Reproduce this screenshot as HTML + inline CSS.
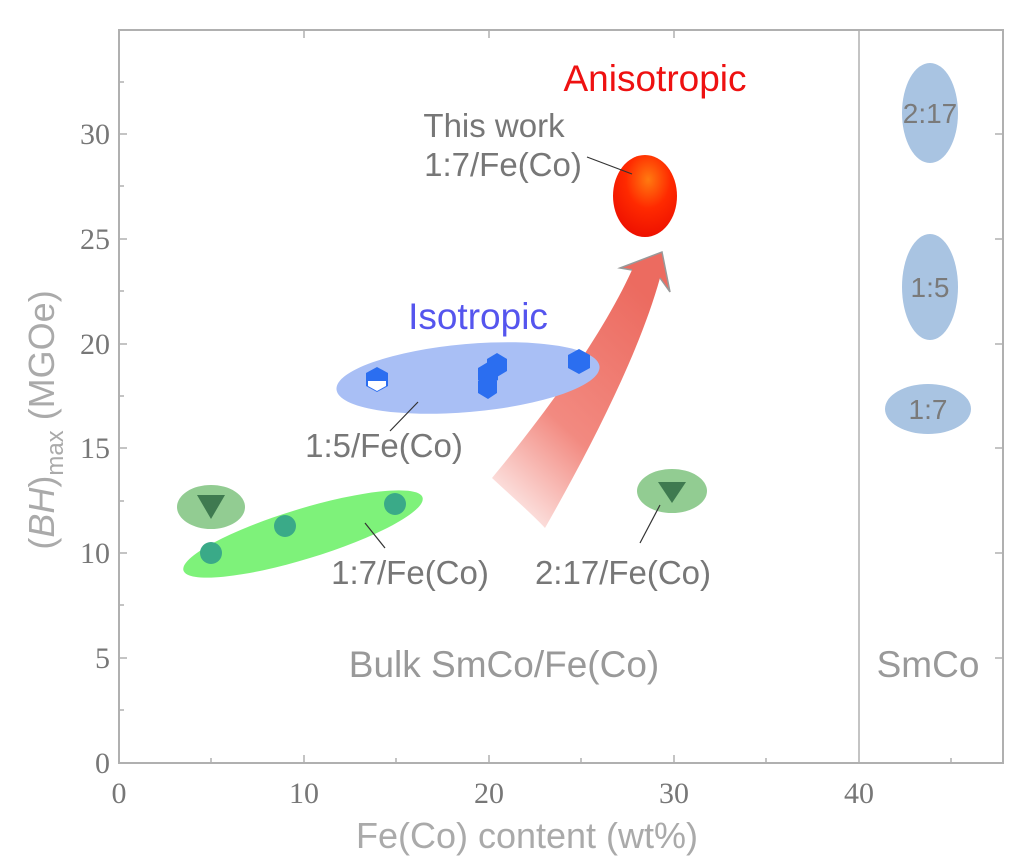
<!DOCTYPE html>
<html><head><style>body{margin:0;background:#fff}svg{display:block}</style></head><body>
<svg width="1024" height="863" viewBox="0 0 1024 863" xmlns="http://www.w3.org/2000/svg">
<defs>
<radialGradient id="rg" cx="0.55" cy="0.3" r="0.7"><stop offset="0" stop-color="#ff7a10"/><stop offset="0.5" stop-color="#ff2a00"/><stop offset="1" stop-color="#ee1100"/></radialGradient>
<linearGradient id="ag" x1="0" y1="1" x2="0.6" y2="0"><stop offset="0" stop-color="#f0756a" stop-opacity="0"/><stop offset="0.45" stop-color="#f0756a" stop-opacity="0.85"/><stop offset="1" stop-color="#ec6b60"/></linearGradient>
</defs>
<g stroke="#b0b0b0" stroke-width="2" fill="none">
<rect x="119" y="30" width="884" height="733"/>
<line x1="859" y1="30" x2="859" y2="763" stroke-width="1.5"/>
</g>
<g stroke="#b0b0b0" stroke-width="1.5">
<line x1="119" y1="658" x2="127" y2="658"/><line x1="119" y1="553" x2="127" y2="553"/><line x1="119" y1="448" x2="127" y2="448"/><line x1="119" y1="344" x2="127" y2="344"/><line x1="119" y1="239" x2="127" y2="239"/><line x1="119" y1="134" x2="127" y2="134"/>
<line x1="119" y1="710" x2="124" y2="710"/><line x1="119" y1="605" x2="124" y2="605"/><line x1="119" y1="501" x2="124" y2="501"/><line x1="119" y1="396" x2="124" y2="396"/><line x1="119" y1="291" x2="124" y2="291"/><line x1="119" y1="186" x2="124" y2="186"/><line x1="119" y1="82" x2="124" y2="82"/>
<line x1="1003" y1="658" x2="995" y2="658"/><line x1="1003" y1="553" x2="995" y2="553"/><line x1="1003" y1="448" x2="995" y2="448"/><line x1="1003" y1="344" x2="995" y2="344"/><line x1="1003" y1="239" x2="995" y2="239"/><line x1="1003" y1="134" x2="995" y2="134"/>
<line x1="304" y1="763" x2="304" y2="755"/><line x1="489" y1="763" x2="489" y2="755"/><line x1="674" y1="763" x2="674" y2="755"/>
<line x1="211" y1="763" x2="211" y2="758"/><line x1="396" y1="763" x2="396" y2="758"/><line x1="581" y1="763" x2="581" y2="758"/><line x1="766" y1="763" x2="766" y2="758"/><line x1="951" y1="763" x2="951" y2="758"/>
<line x1="304" y1="30" x2="304" y2="38"/><line x1="489" y1="30" x2="489" y2="38"/><line x1="674" y1="30" x2="674" y2="38"/>
</g>
<g font-family="Liberation Serif, serif" font-size="30" fill="#777">
<g text-anchor="end"><text x="110" y="773">0</text><text x="110" y="668">5</text><text x="110" y="563">10</text><text x="110" y="458">15</text><text x="110" y="354">20</text><text x="110" y="249">25</text><text x="110" y="144">30</text></g>
<g text-anchor="middle"><text x="119" y="803">0</text><text x="304" y="803">10</text><text x="489" y="803">20</text><text x="674" y="803">30</text><text x="859" y="803">40</text></g>
</g>
<g font-family="Liberation Sans, sans-serif" fill="#aaa">
<text x="527" y="848" font-size="36" text-anchor="middle">Fe(Co) content (wt%)</text>
<text transform="translate(54,420) rotate(-90)" font-size="36" text-anchor="middle">(<tspan font-style="italic">BH</tspan>)<tspan font-size="24" dy="9">max</tspan><tspan dy="-9"> (MGOe)</tspan></text>
</g>
<g fill="#a9c4e2"><ellipse cx="930" cy="113" rx="28" ry="50"/><ellipse cx="930" cy="287" rx="28" ry="53"/><ellipse cx="928" cy="409" rx="43" ry="25"/></g>
<g font-family="Liberation Sans, sans-serif" font-size="28" fill="#7a7a7a" text-anchor="middle"><text x="930" y="123">2:17</text><text x="930" y="297">1:5</text><text x="928" y="419">1:7</text></g>
<path d="M492 478 C540 420 600 340 632 270 L620 268 L662 252 L670 292 L660 278 C640 350 595 440 545 528 C528 510 510 495 492 478 Z" fill="url(#ag)"/>
<path d="M632 270 L620 268 L662 252 L670 292 L660 278" fill="none" stroke="#999" stroke-width="1.5"/>
<ellipse cx="468" cy="378" rx="132" ry="34" transform="rotate(-5 468 378)" fill="#a9bff5"/>
<g fill="#2b6ef0">
<polygon points="377,367 388,373 388,386 377,392 366,386 366,373"/>
<polygon points="497,353 507,359 507,371 497,377 487,371 487,359"/>
<polygon points="488,362 498,368 498,380 488,386 478,380 478,368"/>
<polygon points="488,375 497,381 497,393 488,399 478,393 478,381"/>
<polygon points="579,349 590,355 590,368 579,374 568,368 568,355"/>
</g>
<polygon points="368,381 386,381 386,386 377,391 368,386" fill="#fff"/>
<ellipse cx="303" cy="534" rx="125" ry="25" transform="rotate(-17 303 534)" fill="#7ef27a"/>
<g fill="#3aaa88"><circle cx="211" cy="553" r="11"/><circle cx="285" cy="526" r="11"/><circle cx="395" cy="504" r="11"/></g>
<ellipse cx="211" cy="507" rx="34" ry="22" fill="#92cc92"/>
<ellipse cx="672" cy="491" rx="35" ry="22" fill="#92cc92"/>
<g fill="#3f7a50"><polygon points="197,495 225,495 211,519"/><polygon points="658,482 686,482 672,503"/></g>
<ellipse cx="645" cy="196" rx="32" ry="41" fill="url(#rg)"/>
<g stroke="#333" stroke-width="1.2">
<line x1="587" y1="157" x2="632" y2="174"/><line x1="390" y1="431" x2="418" y2="402"/><line x1="365" y1="523" x2="385" y2="548"/><line x1="640" y1="543" x2="660" y2="505"/>
</g>
<g font-family="Liberation Sans, sans-serif" font-size="33" fill="#777">
<text x="494" y="137" text-anchor="middle">This work</text>
<text x="503" y="176" text-anchor="middle">1:7/Fe(Co)</text>
<text x="384" y="457" text-anchor="middle">1:5/Fe(Co)</text>
<text x="410" y="584" text-anchor="middle">1:7/Fe(Co)</text>
<text x="623" y="584" text-anchor="middle">2:17/Fe(Co)</text>
</g>
<g font-family="Liberation Sans, sans-serif" font-size="37" fill="#999" text-anchor="middle">
<text x="504" y="677">Bulk SmCo/Fe(Co)</text><text x="928" y="677">SmCo</text>
</g>
<text x="478" y="329" font-family="Liberation Sans, sans-serif" font-size="37" fill="#5555ee" text-anchor="middle">Isotropic</text>
<text x="655" y="91" font-family="Liberation Sans, sans-serif" font-size="37" fill="#ee1111" text-anchor="middle">Anisotropic</text>
</svg>
</body></html>
